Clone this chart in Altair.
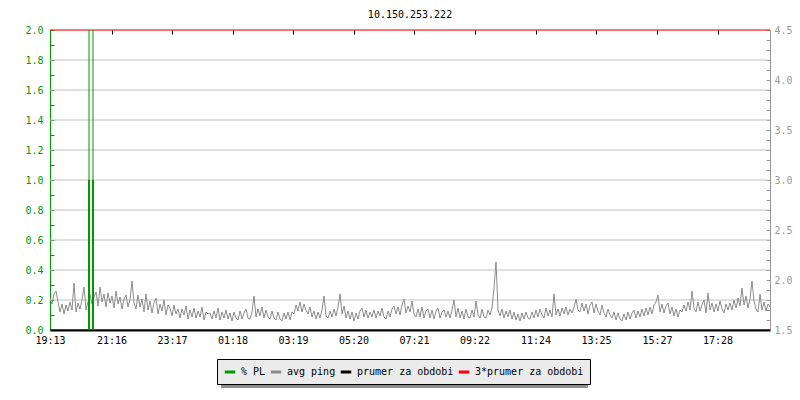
import altair as alt
import pandas as pd

FONT = "DejaVu Sans Mono"
title_text = "10.150.253.222"

# x axis labels (time of day); the chart covers 24 h starting at 19:13
x_labels = ["19:13", "21:16", "23:17", "01:18", "03:19", "05:20",
            "07:21", "09:22", "11:24", "13:25", "15:27", "17:28"]
start_min = 19 * 60 + 13
x_ticks = [((int(s[:2]) * 60 + int(s[3:])) - start_min) % 1440 for s in x_labels]

# avg ping [ms], one sample every 4 minutes
ping_rows = [
    [1.82, 1.76, 1.86, 1.89, 1.78, 1.68, 1.76, 1.66, 1.75, 1.69, 1.78, 1.70, 1.97, 1.68, 1.77, 1.71, 1.80, 1.93, 1.70, 1.78],
    [1.86, 1.76, 1.83, 1.88, 1.74, 1.93, 1.78, 1.86, 1.73, 1.87, 1.77, 1.84, 1.72, 1.89, 1.76, 1.83, 1.71, 1.81, 1.85, 1.73],
    [1.80, 1.99, 1.77, 1.71, 1.85, 1.73, 1.81, 1.68, 1.86, 1.70, 1.79, 1.67, 1.77, 1.82, 1.66, 1.76, 1.69, 1.80, 1.65, 1.75],
    [1.72, 1.64, 1.75, 1.66, 1.71, 1.62, 1.71, 1.65, 1.74, 1.61, 1.70, 1.63, 1.72, 1.62, 1.69, 1.63, 1.73, 1.60, 1.68, 1.66],
    [1.67, 1.61, 1.69, 1.62, 1.72, 1.60, 1.68, 1.62, 1.70, 1.61, 1.67, 1.59, 1.68, 1.62, 1.60, 1.69, 1.61, 1.67, 1.71, 1.62],
    [1.61, 1.68, 1.84, 1.63, 1.71, 1.64, 1.73, 1.62, 1.70, 1.63, 1.61, 1.69, 1.62, 1.60, 1.68, 1.61, 1.59, 1.67, 1.61, 1.68],
    [1.60, 1.68, 1.66, 1.75, 1.69, 1.78, 1.68, 1.76, 1.70, 1.66, 1.73, 1.63, 1.69, 1.61, 1.68, 1.62, 1.70, 1.84, 1.64, 1.62],
    [1.69, 1.63, 1.71, 1.64, 1.73, 1.86, 1.66, 1.74, 1.62, 1.69, 1.61, 1.68, 1.59, 1.67, 1.61, 1.69, 1.72, 1.63, 1.70, 1.62],
    [1.68, 1.63, 1.70, 1.62, 1.69, 1.64, 1.72, 1.63, 1.61, 1.69, 1.63, 1.71, 1.74, 1.66, 1.73, 1.65, 1.75, 1.81, 1.67, 1.74],
    [1.68, 1.79, 1.66, 1.63, 1.71, 1.63, 1.73, 1.62, 1.69, 1.71, 1.62, 1.70, 1.61, 1.69, 1.72, 1.62, 1.68, 1.70, 1.63, 1.69],
    [1.62, 1.70, 1.80, 1.63, 1.72, 1.62, 1.69, 1.61, 1.71, 1.63, 1.62, 1.70, 1.63, 1.79, 1.65, 1.62, 1.71, 1.63, 1.62, 1.70],
    [1.65, 1.72, 1.92, 2.18, 1.70, 1.64, 1.71, 1.62, 1.69, 1.63, 1.70, 1.61, 1.68, 1.60, 1.66, 1.59, 1.67, 1.61, 1.68, 1.62],
    [1.61, 1.68, 1.62, 1.70, 1.63, 1.71, 1.65, 1.62, 1.72, 1.64, 1.70, 1.63, 1.86, 1.65, 1.71, 1.64, 1.72, 1.66, 1.73, 1.65],
    [1.71, 1.67, 1.73, 1.81, 1.70, 1.68, 1.77, 1.69, 1.76, 1.66, 1.75, 1.78, 1.67, 1.76, 1.69, 1.65, 1.75, 1.67, 1.63, 1.71],
    [1.65, 1.62, 1.68, 1.60, 1.67, 1.61, 1.59, 1.66, 1.60, 1.68, 1.61, 1.67, 1.70, 1.62, 1.69, 1.63, 1.71, 1.64, 1.72, 1.65],
    [1.73, 1.66, 1.75, 1.78, 1.85, 1.68, 1.76, 1.67, 1.74, 1.77, 1.66, 1.73, 1.64, 1.71, 1.63, 1.70, 1.68, 1.75, 1.69, 1.78],
    [1.70, 1.89, 1.72, 1.68, 1.78, 1.69, 1.75, 1.80, 1.67, 1.87, 1.70, 1.77, 1.68, 1.76, 1.69, 1.79, 1.71, 1.67, 1.76, 1.70],
    [1.77, 1.70, 1.80, 1.72, 1.82, 1.74, 1.92, 1.75, 1.84, 1.72, 1.81, 1.99, 1.79, 1.71, 1.68, 1.86, 1.70, 1.78, 1.69, 1.76],
    [1.73],
]
ping_step = 4
ping_values = [v for row in ping_rows for v in row]
ping_minutes = [i * ping_step for i in range(len(ping_values))]

# packet loss spikes
pl_minutes = [78, 86]
pl_values = [1.0, 1.0]
pl_peaks = [2.0, 2.0]

# period average and 3x average
prumer_values = [1.5, 4.5]

series_names = ["% PL", "avg ping", "prumer za obdobi", "3*prumer za obdobi"]
series_colors = ["#009a00", "#8c8c8c", "#000000", "#ff0000"]

left_ticks = [round(i * 0.1, 1) for i in range(21)]
left_grid = [0.2, 0.4, 0.6, 0.8, 1.0, 1.2, 1.4, 1.6, 1.8]
right_ticks = [round(1.5 + i * 0.1, 1) for i in range(31)]

GREEN = series_colors[0]
GRAY_TXT = "#999999"

x_scale = alt.Scale(domain=[0, 1440], nice=False, zero=False)
x_axis = alt.Axis(
    values=x_ticks, title=None, grid=True, gridDash=[4, 2000], gridColor="black",
    gridOpacity=1, ticks=False, domainColor="black", domainWidth=2,
    labelPadding=5, labelColor="black", labelFlush=False, labelOverlap=False,
    labelExpr="timeFormat(datetime(2000, 0, 1, 19, 13 + datum.value), '%H:%M')",
)
x_enc = alt.X("t:Q", scale=x_scale, axis=x_axis)

left_scale = alt.Scale(domain=[0, 2], nice=False, zero=False)
left_axis = alt.Axis(
    orient="left", values=left_ticks, title=None, grid=True, gridDash=[4, 2000],
    gridColor=GREEN, gridOpacity=1, ticks=False, domainColor=GREEN,
    labelColor=GREEN, labelPadding=7, labelOverlap=False, labelFlush=False,
    labelExpr="abs(round(datum.value * 10)) % 2 == 0 ? format(datum.value, '.1f') : ''",
)
right_scale = alt.Scale(domain=[1.5, 4.5], nice=False, zero=False)
right_axis = alt.Axis(
    orient="right", values=right_ticks, title=None, grid=True, gridDash=[4, 2000],
    gridColor=GRAY_TXT, gridOpacity=1, ticks=False, domainColor=GRAY_TXT,
    labelColor=GRAY_TXT, labelPadding=4, labelOverlap=False, labelFlush=False,
    labelExpr="abs(round(datum.value * 10)) % 5 == 0 ? format(datum.value, '.1f') : ''",
)

color = alt.Color(
    "series:N",
    scale=alt.Scale(domain=series_names, range=series_colors),
    legend=alt.Legend(
        title=None, orient="none", legendX=167, legendY=329, direction="horizontal",
        symbolType="stroke", symbolSize=110, symbolStrokeWidth=3, labelOffset=4,
        columnPadding=-2, padding=6, fillColor="#ebebeb", strokeColor="black",
        labelFont=FONT, labelFontSize=10, labelColor="black", cornerRadius=0,
    ),
)

grid_df = pd.DataFrame({"v": left_grid})
grid_layer = alt.Chart(grid_df).mark_rule(color="#c0c0c0", strokeWidth=1).encode(
    y=alt.Y("v:Q", scale=left_scale, axis=left_axis)
)

ping_df = pd.DataFrame({"t": ping_minutes, "ms": ping_values, "series": "avg ping"})
avg_df = pd.DataFrame({"ms": prumer_values, "series": [series_names[2], series_names[3]]})
shadow_df = pd.DataFrame({"k": [0]})

shadow = alt.Chart(shadow_df).mark_rect(color="#8c8c8c", clip=False).encode(
    x=alt.value(171), x2=alt.value(538), y=alt.value(333), y2=alt.value(358)
)
ping_line = alt.Chart(ping_df).mark_line(strokeWidth=1, clip=True).encode(
    x=x_enc, y=alt.Y("ms:Q", scale=right_scale, axis=right_axis), color=color
)
avg_rules = alt.Chart(avg_df).mark_rule(strokeWidth=1).encode(
    y=alt.Y("ms:Q", scale=right_scale, axis=right_axis), color=color
)
right_layer = alt.layer(shadow, ping_line, avg_rules)

pl_df = pd.DataFrame({"t": pl_minutes, "pl": pl_values, "peak": pl_peaks, "series": "% PL"})
pl_thin = alt.Chart(pl_df).mark_rule(strokeWidth=1, clip=True).encode(
    x=x_enc, y=alt.Y("peak:Q", scale=left_scale, axis=None), y2=alt.datum(0), color=color
)
pl_thick = alt.Chart(pl_df).mark_rule(strokeWidth=2, clip=True).encode(
    x=x_enc, y=alt.Y("pl:Q", scale=left_scale, axis=None), y2=alt.datum(0), color=color
)
pl_layer = alt.layer(pl_thin, pl_thick)

chart = (
    alt.layer(grid_layer, right_layer, pl_layer)
    .resolve_scale(y="independent")
    .properties(
        width=720, height=300,
        padding={"left": 42, "top": 22, "right": 22, "bottom": 62},
        autosize=alt.AutoSizeParams(type="none"),
        title=alt.Title(title_text, fontSize=10, font=FONT, fontWeight="normal",
                        color="black", offset=5, frame="group", anchor="middle"),
    )
    .configure_view(stroke=None)
    .configure_axis(labelFont=FONT, labelFontSize=10)
    .configure(font=FONT)
)

chart.save("out.html", embed_options={"renderer": "svg", "actions": False})
